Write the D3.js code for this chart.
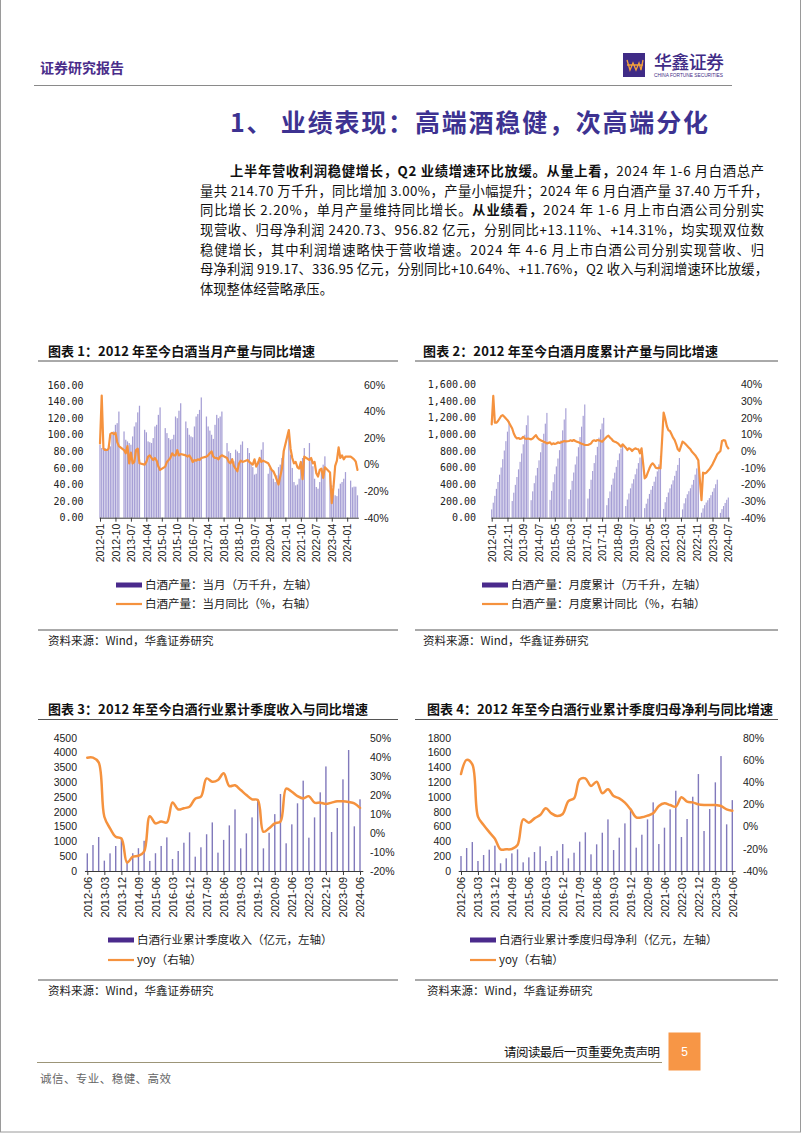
<!DOCTYPE html>
<html><head><meta charset="utf-8">
<script src="https://cdn.jsdelivr.net/npm/d3@7"></script>
<style>body{margin:0;background:#fff}svg{display:block}</style>
</head><body>
<svg id="page" width="802" height="1133"></svg>
<script>
// ---------------- DATA ----------------
// Chart 1: monthly liquor output (万千升) and yoy (%), 2012-01 .. 2024-07
const c1Prod = [
  88,84,82,84,82,88,86,100,104,112,114,128,
  null,null,104,94,92,90,88,98,110,115,127,135,
  null,null,106,103,92,91,90,96,110,112,124,133,
  null,null,108,102,96,94,95,100,122,120,129,138,
  null,null,116,108,100,98,97,110,122,125,130,145,
  null,null,122,110,105,100,95,112,124,120,122,128,
  null,null,90,80,78,72,68,82,80,78,88,92,
  null,null,84,78,66,61,52,53,68,72,82,91,
  null,null,53,60,57,47,43,51,61,64,72,82,
  null,null,98,76,60,43,39,40,47,60,72,84,
  null,null,90,72,62,47,37,35,43,57,64,74,
  null,null,52,39,31,27,26,35,41,43,47,55,
  null,null,44.7,36.6,37.5,37.4,27.0
];
const c1Yoy = [
  16,52,12,11,11,12,23,24,23,24,17,14,
  null,null,11,8.5,14,1,9,1,2,11,12,1,
  null,null,0,2,6,7,5,3.5,5,3,-1.5,-4,
  null,null,-1.5,2,3.5,5,8.5,7,7,11,7,8,
  null,null,7,6,7,5,2,3.5,3,4,3.5,5,
  null,null,6,7,8.5,10,6,5,5,4,6,7,
  null,null,5,2,1,4,-1,-3,-5,1,3,2,
  null,null,3.5,2,1,0,4,-1.5,1,5,2,3,
  null,null,1,-1.5,-4,-5,-8,-11.5,-15,-9,-3,10,
  null,null,26,12,5,1,2,-2,-3,2,-11,6,
  null,null,3.5,5,1,2,-6.5,-9,-4,-3,-10,-2,
  null,null,-6,-29,-17,-1,3,13,5,7,4,6,
  null,null,6,5,4,2.2,-4
];
const c1TickLabels = ["2012-01","2012-10","2013-07","2014-04","2015-01","2015-10","2016-07","2017-04","2018-01","2018-10","2019-07","2020-04","2021-01","2021-10","2022-07","2023-04","2024-01"];

// Chart 2: cumulative output (万千升) and cumulative yoy (%), 2012-01 .. 2024-07
const c2Cum = [
  100,180,262,346,428,516,602,702,806,918,1032,1153,
  null,200,300,394,488,580,670,770,880,995,1110,1226,
  null,210,316,414,506,597,688,785,895,1007,1128,1257,
  null,214,322,425,521,615,710,810,928,1048,1178,1313,
  null,222,335,442,542,638,735,845,967,1092,1222,1358,
  null,230,345,455,560,655,750,850,960,1060,1130,1198,
  null,150,235,315,395,470,540,610,690,770,830,871,
  null,140,218,290,352,410,462,520,588,655,722,786,
  null,115,168,228,285,335,380,432,492,556,640,741,
  null,105,185,248,302,352,399,448,502,563,633,716,
  null,100,172,234,281,318,353,396,453,517,591,671,
  null,60,112,151,182,209,235,270,311,354,401,456,
  null,58,103,140,177,215,242
];
const c2Yoy = [
  16,33,17,17,18,19.5,21,21.5,20.5,19.5,18.5,17,
  null,13.5,10.5,8.5,7.5,7.8,7.2,7.5,8.5,7.5,7.2,7.5,
  null,7,7.5,8.5,9.5,8,7,6.5,6,5.5,5.2,4.6,
  null,5.2,4,4.6,4.2,4.5,5.2,4.8,5.2,5.6,6,5.8,
  null,6,6.4,6,6.6,6,5.6,5.2,4.8,4.4,4,3.6,
  null,3.6,4,4.6,6,6.4,6,6.6,6.4,6,5.6,6.6,
  null,8.6,9.2,8,7.2,6,5.6,5.2,4.6,3.6,2.6,4,
  null,2,0.6,1.6,1.2,0,1,1.6,1.2,1,-1.4,1.6,
  null,-16.4,-15.4,-12.8,-10.4,-8.4,-7.4,-8.4,-10,-10.4,-10,-10.4,
  null,23,19.5,15,12.5,12,10,8,6.5,4,1,0,
  null,5.6,5,4,3,2,1,-0.5,-1.5,-2.5,-4,-5.6,
  null,-29.5,-13,-13.5,-13,-12,-11,-9.5,-8,-6,-4,-2,
  null,0,6,6.5,6.3,3.0,1.6
];
const c2TickLabels = ["2012-01","2012-11","2013-09","2014-07","2015-05","2016-03","2017-01","2017-11","2018-09","2019-07","2020-05","2021-03","2022-01","2022-11","2023-09","2024-07"];

// Chart 3: cumulative quarterly revenue (亿元) and yoy (%), 2012-06 .. 2024-06
const c3Rev = [596,877,1147, 349,596,844,1080, 350,600,770,1020, 340,600,845,1135,
  405,675,955,1305, 484,800,1240,1640, 620,1050,1540,2080, 765,1270,1810,2420,
  765,1290,1920,2600, 935,1575,2285,3050, 1125,1810,2655,3530, 1316,2126,3094,4084, 1508,2421];
const c3Yoy = [39.5,39.5,37,8.5,2.4,-2,-2.9,-15.6,-12.5,-12,-9.8,8.8,5,6,5.5,
  16,12.3,13,13.7,18,19,28.6,26.9,27.8,31.3,24.6,25,22.5,19.9,17.6,17.3,
  0.6,2.4,5,5.9,23.3,21.6,19.3,18.1,19.3,15.9,15.9,15.2,15.9,16.6,16.6,16.2,15.5,13.1];
const c3TickLabels = ["2012-06","2013-03","2013-12","2014-09","2015-06","2016-03","2016-12","2017-09","2018-06","2019-03","2019-12","2020-09","2021-06","2022-03","2022-12","2023-09","2024-06"];

// Chart 4: cumulative quarterly net profit (亿元) and yoy (%)
const c4Profit = [202,310,391, 135,216,288,342, 104,171,238,292, 117,184,256,333,
  135,202,274,364, 171,247,396,522, 225,360,517,697, 283,450,643,846,
  315,490,697,927, 364,585,832,1084, 459,702,1003,1309, 540,837,1197,1552, 630,957];
const c4Yoy = [47.3,60,56,9,1.4,-5,-11,-20.5,-20.5,-20.2,-16.6,6.5,3.5,7.4,10.4,
  16.4,11.9,9.5,11.3,23,25.4,42.5,43.4,36.5,40.4,30,33.5,27.5,25.4,21.5,15.5,
  8.3,8.3,9.8,11.9,18.5,20.9,19.4,17.9,26.3,22.4,21.8,20,19.4,19.4,19.4,18.5,15.5,14.3];

// categories
const months = [];
for (let y = 2012; y <= 2024; y++) for (let m = 1; m <= 12; m++) {
  if (y === 2024 && m > 7) break;
  months.push(y + "-" + String(m).padStart(2, "0"));
}
const quarters = [];
for (let y = 2012; y <= 2024; y++) for (const m of ["03","06","09","12"]) {
  const q = y + "-" + m;
  if (q >= "2012-06" && q <= "2024-06") quarters.push(q);
}

// ---------------- DRAW ----------------
const svg = d3.select("#page");
const CJK = "'Noto Sans CJK SC','Noto Sans',sans-serif";
const PURPLE = "#3f2b86";
const ORANGE = "#f5923e";

svg.append("rect").attr("x",0.5).attr("y",-5).attr("width",800).attr("height",1137)
  .attr("fill","none").attr("stroke","#9a9a9a");

svg.append("text").attr("x",40).attr("y",73).attr("font-family",CJK).attr("font-size",14)
  .attr("font-weight",700).attr("fill","#4a2d8a").attr("textLength",84).text("证券研究报告");
svg.append("rect").attr("x",623).attr("y",53).attr("width",22).attr("height",24).attr("fill",PURPLE);
svg.append("path").attr("d","M627,60 L630,70 L633,63 L636,70 L639,63 L641,70 L643,60 M627,65 L643,65")
  .attr("fill","none").attr("stroke","#f2a03d").attr("stroke-width",1.3);
svg.append("text").attr("x",654).attr("y",69).attr("font-family",CJK).attr("font-size",18)
  .attr("font-weight",500).attr("fill",PURPLE).attr("textLength",70).text("华鑫证券");
svg.append("text").attr("x",654).attr("y",76.8).attr("font-family","'Liberation Sans',sans-serif")
  .attr("font-size",4.6).attr("fill",PURPLE).attr("textLength",69).attr("lengthAdjust","spacingAndGlyphs")
  .text("CHINA FORTUNE SECURITIES");
svg.append("line").attr("x1",34).attr("x2",732).attr("y1",85.5).attr("y2",85.5).attr("stroke","#8a8a8a");

svg.append("text").attr("x",230).attr("y",132).attr("font-family",CJK).attr("font-size",25)
  .attr("font-weight",700).attr("fill","#3d3291").attr("textLength",478)
  .text("1、 业绩表现：高端酒稳健，次高端分化");

const para = [
  {x:230, w:534, parts:[["上半年营收利润稳健增长，Q2 业绩增速环比放缓。从量上看，",1],["2024 年 1-6 月白酒总产",0]]},
  {x:200, w:568, parts:[["量共 214.70 万千升，同比增加 3.00%，产量小幅提升；2024 年 6 月白酒产量 37.40 万千升，",0]]},
  {x:200, w:564, parts:[["同比增长 2.20%，单月产量维持同比增长。",0],["从业绩看，",1],["2024 年 1-6 月上市白酒公司分别实",0]]},
  {x:200, w:564, parts:[["现营收、归母净利润 2420.73、956.82 亿元，分别同比+13.11%、+14.31%，均实现双位数",0]]},
  {x:200, w:564, parts:[["稳健增长，其中利润增速略快于营收增速。2024 年 4-6 月上市白酒公司分别实现营收、归",0]]},
  {x:200, w:568, parts:[["母净利润 919.17、336.95 亿元，分别同比+10.64%、+11.76%，Q2 收入与利润增速环比放缓，",0]]},
  {x:200, w:null, parts:[["体现整体经营略承压。",0]]}
];
para.forEach((ln, i) => {
  const t = svg.append("text").attr("x", ln.x).attr("y", 176 + i*19.65)
    .attr("font-family", CJK).attr("font-size", 13.3).attr("fill", "#111");
  if (ln.w) t.attr("textLength", ln.w).attr("lengthAdjust", "spacing");
  ln.parts.forEach(p => t.append("tspan").attr("font-weight", p[1] ? 700 : 400).text(p[0]));
});

function chart(o) {
  const g = svg.append("g");
  const n = o.cats.length;
  const step = (o.x1 - o.x0) / (n - 1);
  const x = d3.scaleLinear().domain([-0.5, n - 0.5]).range([o.x0 - step/2, o.x1 + step/2]);
  const yl = d3.scaleLinear().domain(o.ldom).range([o.yb, o.yt]);
  const yr = d3.scaleLinear().domain(o.rdom).range([o.yb, o.yt]);

  g.append("text").attr("x", o.tx).attr("y", o.ty).attr("font-family", CJK).attr("font-size", 13)
    .attr("font-weight", 700).attr("fill", "#111").attr("textLength", o.tw).text(o.title);
  g.append("line").attr("x1", o.rx0).attr("x2", o.rx1).attr("y1", o.ty + 5.5).attr("y2", o.ty + 5.5)
    .attr("stroke", "#555").attr("stroke-width", 1);

  const bd = o.bars.map((v, i) => ({v, i})).filter(d => d.v != null);
  g.append("g").selectAll("rect").data(bd).enter().append("rect")
    .attr("x", d => x(d.i) - o.bw/2).attr("width", o.bw)
    .attr("y", d => yl(d.v)).attr("height", d => yl(0) - yl(d.v))
    .attr("fill", o.barColor);

  const tickIdx = o.tickLabels.map(l => o.cats.indexOf(l));
  const ax = g.append("g").attr("transform", `translate(0,${o.yb})`)
    .call(d3.axisBottom(x).tickValues(tickIdx).tickFormat(i => o.cats[i]).tickSize(4).tickSizeOuter(0));
  ax.select(".domain").attr("stroke", "#3a3a3a");
  ax.selectAll(".tick line").attr("stroke", "#3a3a3a");
  ax.selectAll(".tick text").attr("transform", "rotate(-90)").attr("text-anchor", "end")
    .attr("x", -6).attr("y", 0).attr("dy", "0.35em")
    .attr("font-family", "'Liberation Sans',Arial,sans-serif").attr("font-size", o.xfs).attr("fill", "#222");

  const la = g.append("g").attr("transform", `translate(${o.lx},0)`)
    .call(d3.axisLeft(yl).tickValues(o.lticks).tickFormat(o.lfmt).tickSize(0).tickPadding(0));
  la.select(".domain").remove();
  la.selectAll("text").attr("font-family", o.lfont).attr("font-size", o.lfs).attr("fill", "#222");

  const ra = g.append("g").attr("transform", `translate(${o.rx},0)`)
    .call(d3.axisRight(yr).tickValues(o.rticks).tickFormat(d => d + "%").tickSize(0).tickPadding(0));
  ra.select(".domain").remove();
  ra.selectAll("text").attr("font-family", "'Liberation Sans',Arial,sans-serif")
    .attr("font-size", o.rfs).attr("fill", "#222");

  const ld = o.line.map((v, i) => ({v, i})).filter(d => d.v != null);
  g.append("path").datum(ld)
    .attr("d", d3.line().x(d => x(d.i)).y(d => yr(d.v)).curve(o.curve))
    .attr("fill", "none").attr("stroke", ORANGE).attr("stroke-width", o.lw)
    .attr("stroke-linejoin", "round").attr("stroke-linecap", "round");

  g.append("rect").attr("x", o.lgx).attr("y", o.lgy - 2.5).attr("width", 26).attr("height", 5).attr("fill", "#4a2a8c");
  g.append("line").attr("x1", o.lgx).attr("x2", o.lgx + 26).attr("y1", o.lgy + o.lgdy).attr("y2", o.lgy + o.lgdy)
    .attr("stroke", ORANGE).attr("stroke-width", 2.2);
  o.legend.forEach((t, k) => {
    g.append("text").attr("x", o.lgx + 29).attr("y", o.lgy + k*o.lgdy + 4)
      .attr("font-family", CJK).attr("font-size", 11.5).attr("fill", "#222").text(t);
  });

  g.append("line").attr("x1", o.rx0).attr("x2", o.rx1).attr("y1", o.sy).attr("y2", o.sy)
    .attr("stroke", "#555").attr("stroke-width", 1);
  g.append("text").attr("x", o.tx).attr("y", o.sy + 15).attr("font-family", CJK).attr("font-size", 11.5)
    .attr("fill", "#222").text("资料来源：Wind，华鑫证券研究");
}

const MONO = "'DejaVu Sans Mono','Liberation Mono',monospace";
const SANS = "'Liberation Sans',Arial,sans-serif";

chart({
  title: "图表 1：2012 年至今白酒当月产量与同比增速", tx: 48, ty: 355.5, tw: 267, rx0: 38, rx1: 398,
  cats: months, bars: c1Prod, line: c1Yoy, tickLabels: c1TickLabels,
  x0: 100, x1: 357.5, yb: 517.7, yt: 385,
  ldom: [0, 160], lticks: d3.range(0, 161, 20), lfmt: d3.format(".2f"), lx: 83.5, lfont: MONO, lfs: 10,
  rdom: [-40, 60], rticks: d3.range(-40, 61, 20), rx: 364, rfs: 10.5,
  bw: 1.25, barColor: "#a69fd5", curve: d3.curveLinear, lw: 2.2, xfs: 10.5,
  lgx: 116, lgy: 585, lgdy: 19, legend: ["白酒产量：当月（万千升，左轴）", "白酒产量：当月同比（%，右轴）"],
  sy: 630
});

chart({
  title: "图表 2：2012 年至今白酒月度累计产量与同比增速", tx: 423, ty: 355.5, tw: 295, rx0: 415, rx1: 778,
  cats: months, bars: c2Cum, line: c2Yoy, tickLabels: c2TickLabels,
  x0: 491.7, x1: 728.3, yb: 517.7, yt: 384.3,
  ldom: [0, 1600], lticks: d3.range(0, 1601, 200), lfmt: d3.format(",.2f"), lx: 476, lfont: MONO, lfs: 10,
  rdom: [-40, 40], rticks: d3.range(-40, 41, 10), rx: 741, rfs: 10.5,
  bw: 1.15, barColor: "#a69fd5", curve: d3.curveLinear, lw: 2.2, xfs: 10.5,
  lgx: 482, lgy: 585, lgdy: 19, legend: ["白酒产量：月度累计（万千升，左轴）", "白酒产量：月度累计同比（%，右轴）"],
  sy: 630
});

chart({
  title: "图表 3：2012 年至今白酒行业累计季度收入与同比增速", tx: 48, ty: 714, tw: 320, rx0: 38, rx1: 398,
  cats: quarters, bars: c3Rev, line: c3Yoy, tickLabels: c3TickLabels,
  x0: 87.3, x1: 360, yb: 871, yt: 737.7,
  ldom: [0, 4500], lticks: d3.range(0, 4501, 500), lfmt: d3.format("d"), lx: 77, lfont: SANS, lfs: 10.5,
  rdom: [-20, 50], rticks: d3.range(-20, 51, 10), rx: 370, rfs: 10.5,
  bw: 1.4, barColor: "#8179bb", curve: d3.curveCatmullRom.alpha(0.5), lw: 2.5, xfs: 11,
  lgx: 108, lgy: 940, lgdy: 20, legend: ["白酒行业累计季度收入（亿元，左轴）", "yoy（右轴）"],
  sy: 980
});

chart({
  title: "图表 4：2012 年至今白酒行业累计季度归母净利与同比增速", tx: 427, ty: 714, tw: 346, rx0: 415, rx1: 778,
  cats: quarters, bars: c4Profit, line: c4Yoy, tickLabels: c3TickLabels,
  x0: 461, x1: 732.3, yb: 871, yt: 737.7,
  ldom: [0, 1800], lticks: d3.range(0, 1801, 200), lfmt: d3.format("d"), lx: 451, lfont: SANS, lfs: 10.5,
  rdom: [-40, 80], rticks: d3.range(-40, 81, 20), rx: 743, rfs: 10.5,
  bw: 1.4, barColor: "#8179bb", curve: d3.curveCatmullRom.alpha(0.5), lw: 2.5, xfs: 11,
  lgx: 470, lgy: 940, lgdy: 20, legend: ["白酒行业累计季度归母净利（亿元，左轴）", "yoy（右轴）"],
  sy: 980
});

svg.append("text").attr("x", 660).attr("y", 1057).attr("text-anchor", "end").attr("font-family", CJK)
  .attr("font-size", 12.5).attr("fill", "#111").attr("textLength", 156).text("请阅读最后一页重要免责声明");
svg.append("rect").attr("x", 668.5).attr("y", 1032.5).attr("width", 32).attr("height", 38).attr("fill", "#f79646");
svg.append("text").attr("x", 684.5).attr("y", 1056).attr("text-anchor", "middle").attr("font-family", SANS)
  .attr("font-size", 12).attr("fill", "#fff").text("5");
svg.append("line").attr("x1", 37).attr("x2", 662).attr("y1", 1062.5).attr("y2", 1062.5)
  .attr("stroke", "#9c9578").attr("stroke-width", 1.2);
svg.append("text").attr("x", 40).attr("y", 1083).attr("font-family", CJK).attr("font-size", 11.5)
  .attr("fill", "#666").attr("textLength", 131).text("诚信、专业、稳健、高效");
</script>
</body></html>
